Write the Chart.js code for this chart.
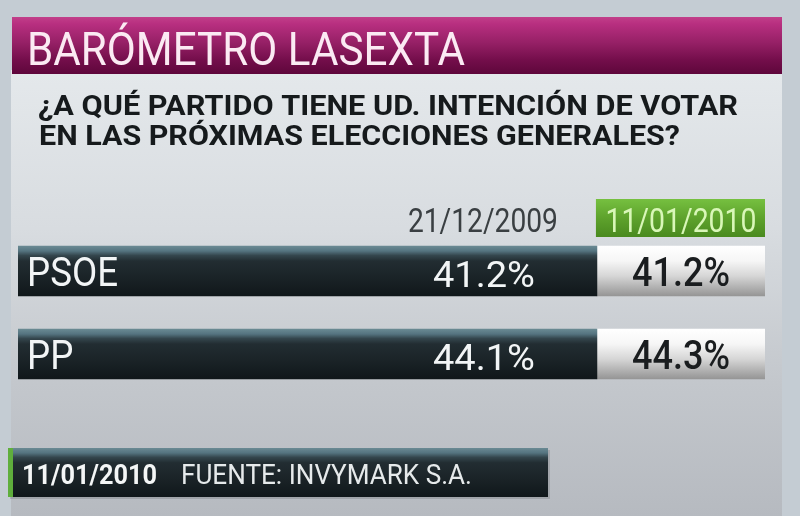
<!DOCTYPE html>
<html>
<head>
<meta charset="utf-8">
<script src="https://cdn.jsdelivr.net/npm/chart.js@4.4.1/dist/chart.umd.min.js"></script>
<style>
  html, body { margin: 0; padding: 0; background: #c6ced5; }
  #wrap { width: 800px; height: 516px; }
  canvas { display: block; }
</style>
</head>
<body>
<div id="wrap"><canvas id="c" width="800" height="516"></canvas></div>
<script>
// ---- data ----
const title = 'BARÓMETRO LASEXTA';
const questionLines = ['¿A QUÉ PARTIDO TIENE UD. INTENCIÓN DE VOTAR', 'EN LAS PRÓXIMAS ELECCIONES GENERALES?'];
const categories = ['PSOE', 'PP'];
const dates = ['21/12/2009', '11/01/2010'];
const values2009 = [41.2, 44.1];
const values2010 = [41.2, 44.3];
const footerDate = '11/01/2010';
const footerSource = 'FUENTE: INVYMARK S.A.';

// ---- layout (table columns on a 0..1 axis) ----
const SPLIT = 0.775;
const FONT = 'Roboto, "DejaVu Sans", sans-serif';

function fitText(ctx, text, x, y, font, color, align, width) {
  ctx.save();
  ctx.font = font;
  const w = ctx.measureText(text).width;
  const s = width / w;
  ctx.translate(x, y);
  ctx.scale(s, 1);
  ctx.textAlign = align;
  ctx.textBaseline = 'alphabetic';
  ctx.fillStyle = color;
  ctx.fillText(text, 0, 0);
  ctx.restore();
  return s;
}
function scaledText(ctx, text, x, y, font, color, align, s) {
  ctx.save();
  ctx.font = font;
  ctx.translate(x, y);
  ctx.scale(s, 1);
  ctx.textAlign = align;
  ctx.textBaseline = 'alphabetic';
  ctx.fillStyle = color;
  ctx.fillText(text, 0, 0);
  ctx.restore();
}

function darkGradient(ctx, top, bot) {
  const g = ctx.createLinearGradient(0, top, 0, bot);
  g.addColorStop(0, '#6a8a93');
  g.addColorStop(0.1, '#557480');
  g.addColorStop(0.19, '#34464d');
  g.addColorStop(0.3, '#222d32');
  g.addColorStop(0.6, '#1b2428');
  g.addColorStop(1, '#10171a');
  return g;
}
function whiteGradient(ctx, top, bot) {
  const g = ctx.createLinearGradient(0, top, 0, bot);
  g.addColorStop(0, '#ffffff');
  g.addColorStop(0.3, '#f6f6f6');
  g.addColorStop(0.6, '#d6d6d6');
  g.addColorStop(1, '#959595');
  return g;
}
function rowGradient(kind) {
  return (c) => {
    const chart = c.chart;
    const ys = chart.scales && chart.scales.y;
    const fallback = kind === 'dark' ? '#1b2428' : '#e6e6e6';
    if (!ys || c.dataIndex === undefined) return fallback;
    const yc = ys.getPixelForValue(c.dataIndex);
    if (!isFinite(yc)) return fallback;
    return kind === 'dark' ? darkGradient(chart.ctx, yc - 25, yc + 25) : whiteGradient(chart.ctx, yc - 25, yc + 25);
  };
}

const backdrop = {
  id: 'backdrop',
  beforeDraw(chart) {
    const ctx = chart.ctx;
    ctx.save();
    ctx.fillStyle = '#c4ccd3';
    ctx.fillRect(0, 0, 800, 516);
    // panel
    let g = ctx.createLinearGradient(0, 74, 0, 516);
    g.addColorStop(0, '#e4e8eb');
    g.addColorStop(0.35, '#d8dce0');
    g.addColorStop(0.7, '#c3c7cc');
    g.addColorStop(1, '#b6bac0');
    ctx.fillStyle = g;
    ctx.fillRect(11, 70, 771, 446);
    // header band
    g = ctx.createLinearGradient(0, 17, 0, 74);
    g.addColorStop(0, '#c23f8a');
    g.addColorStop(0.12, '#b82f80');
    g.addColorStop(0.45, '#962066');
    g.addColorStop(0.75, '#740e4b');
    g.addColorStop(1, '#5e063b');
    ctx.fillStyle = g;
    ctx.fillRect(12, 17, 770, 57);
    ctx.restore();
    fitText(ctx, title, 27, 65, '400 46px ' + FONT, '#fbeaf3', 'left', 438);
    fitText(ctx, questionLines[0], 38, 115, '700 28px ' + FONT, '#161a1c', 'left', 700);
    fitText(ctx, questionLines[1], 39, 145, '700 28px ' + FONT, '#161a1c', 'left', 641);

    // footer bar
    ctx.save();
    ctx.fillStyle = 'rgba(0,0,0,0.12)';
    ctx.fillRect(10, 450, 540, 49);
    ctx.fillStyle = darkGradient(ctx, 448, 497);
    ctx.fillRect(8, 448, 540, 49);
    ctx.fillStyle = '#5fae3c';
    ctx.fillRect(8, 448, 5, 49);
    ctx.restore();
    fitText(ctx, footerDate, 22, 484, '700 28px ' + FONT, '#f4f6f6', 'left', 135);
    fitText(ctx, footerSource, 181, 484, '400 28px ' + FONT, '#e6eaeb', 'left', 291);
  }
};

const labels = {
  id: 'labels',
  afterDatasetsDraw(chart) {
    const ctx = chart.ctx;
    const dark = chart.getDatasetMeta(0).data;
    const white = chart.getDatasetMeta(1).data;
    // column headers
    const splitX = white[0].base;
    const endX = white[0].x;
    const headTop = 199, headBot = 237;
    fitText(ctx, dates[0], splitX - 39, 232, '400 34px ' + FONT, '#3a3f42', 'right', 150);
    ctx.save();
    const gg = ctx.createLinearGradient(0, headTop, 0, headBot);
    gg.addColorStop(0, '#76c040');
    gg.addColorStop(0.5, '#5ea22c');
    gg.addColorStop(1, '#4a8a1f');
    ctx.fillStyle = gg;
    ctx.fillRect(splitX - 1, headTop, endX - splitX + 1, headBot - headTop);
    ctx.restore();
    fitText(ctx, dates[1], (splitX + endX) / 2, 232, '400 34px ' + FONT, '#d9f7b8', 'center', 151);

    let sx = null;
    categories.forEach((cat, i) => {
      const d = dark[i], w = white[i];
      const base = d.y + 15;
      if (sx === null) {
        sx = fitText(ctx, cat, chart.chartArea.left + 9, base, '400 41px ' + FONT, '#f2f5f6', 'left', 91);
      } else {
        scaledText(ctx, cat, chart.chartArea.left + 9, base, '400 41px ' + FONT, '#f2f5f6', 'left', sx);
      }
      fitText(ctx, values2009[i].toFixed(1) + '%', d.x - 62, base + 1, '400 37px ' + FONT, '#f2f5f6', 'right', 102);
      fitText(ctx, values2010[i].toFixed(1) + '%', (w.base + w.x) / 2, base, '500 40px ' + FONT, '#1a1d1f', 'center', 98);
    });
  }
};

new Chart(document.getElementById('c'), {
  type: 'bar',
  data: {
    labels: categories,
    datasets: [
      {
        label: dates[0],
        data: categories.map(() => [0, SPLIT]),
        backgroundColor: rowGradient('dark'),
        borderWidth: 0,
        grouped: false,
        barThickness: 50
      },
      {
        label: dates[1],
        data: categories.map(() => [SPLIT, 1]),
        backgroundColor: rowGradient('white'),
        borderWidth: 0,
        grouped: false,
        barThickness: 50
      }
    ]
  },
  options: {
    indexAxis: 'y',
    responsive: false,
    animation: false,
    layout: { padding: { left: 18, right: 35, top: 229.5, bottom: 120.5 } },
    scales: {
      x: { type: 'linear', min: 0, max: 1, display: false },
      y: { type: 'category', display: false }
    },
    plugins: {
      legend: { display: false },
      tooltip: { enabled: false },
      title: { display: false }
    }
  },
  plugins: [backdrop, labels]
});
</script>
</body>
</html>
